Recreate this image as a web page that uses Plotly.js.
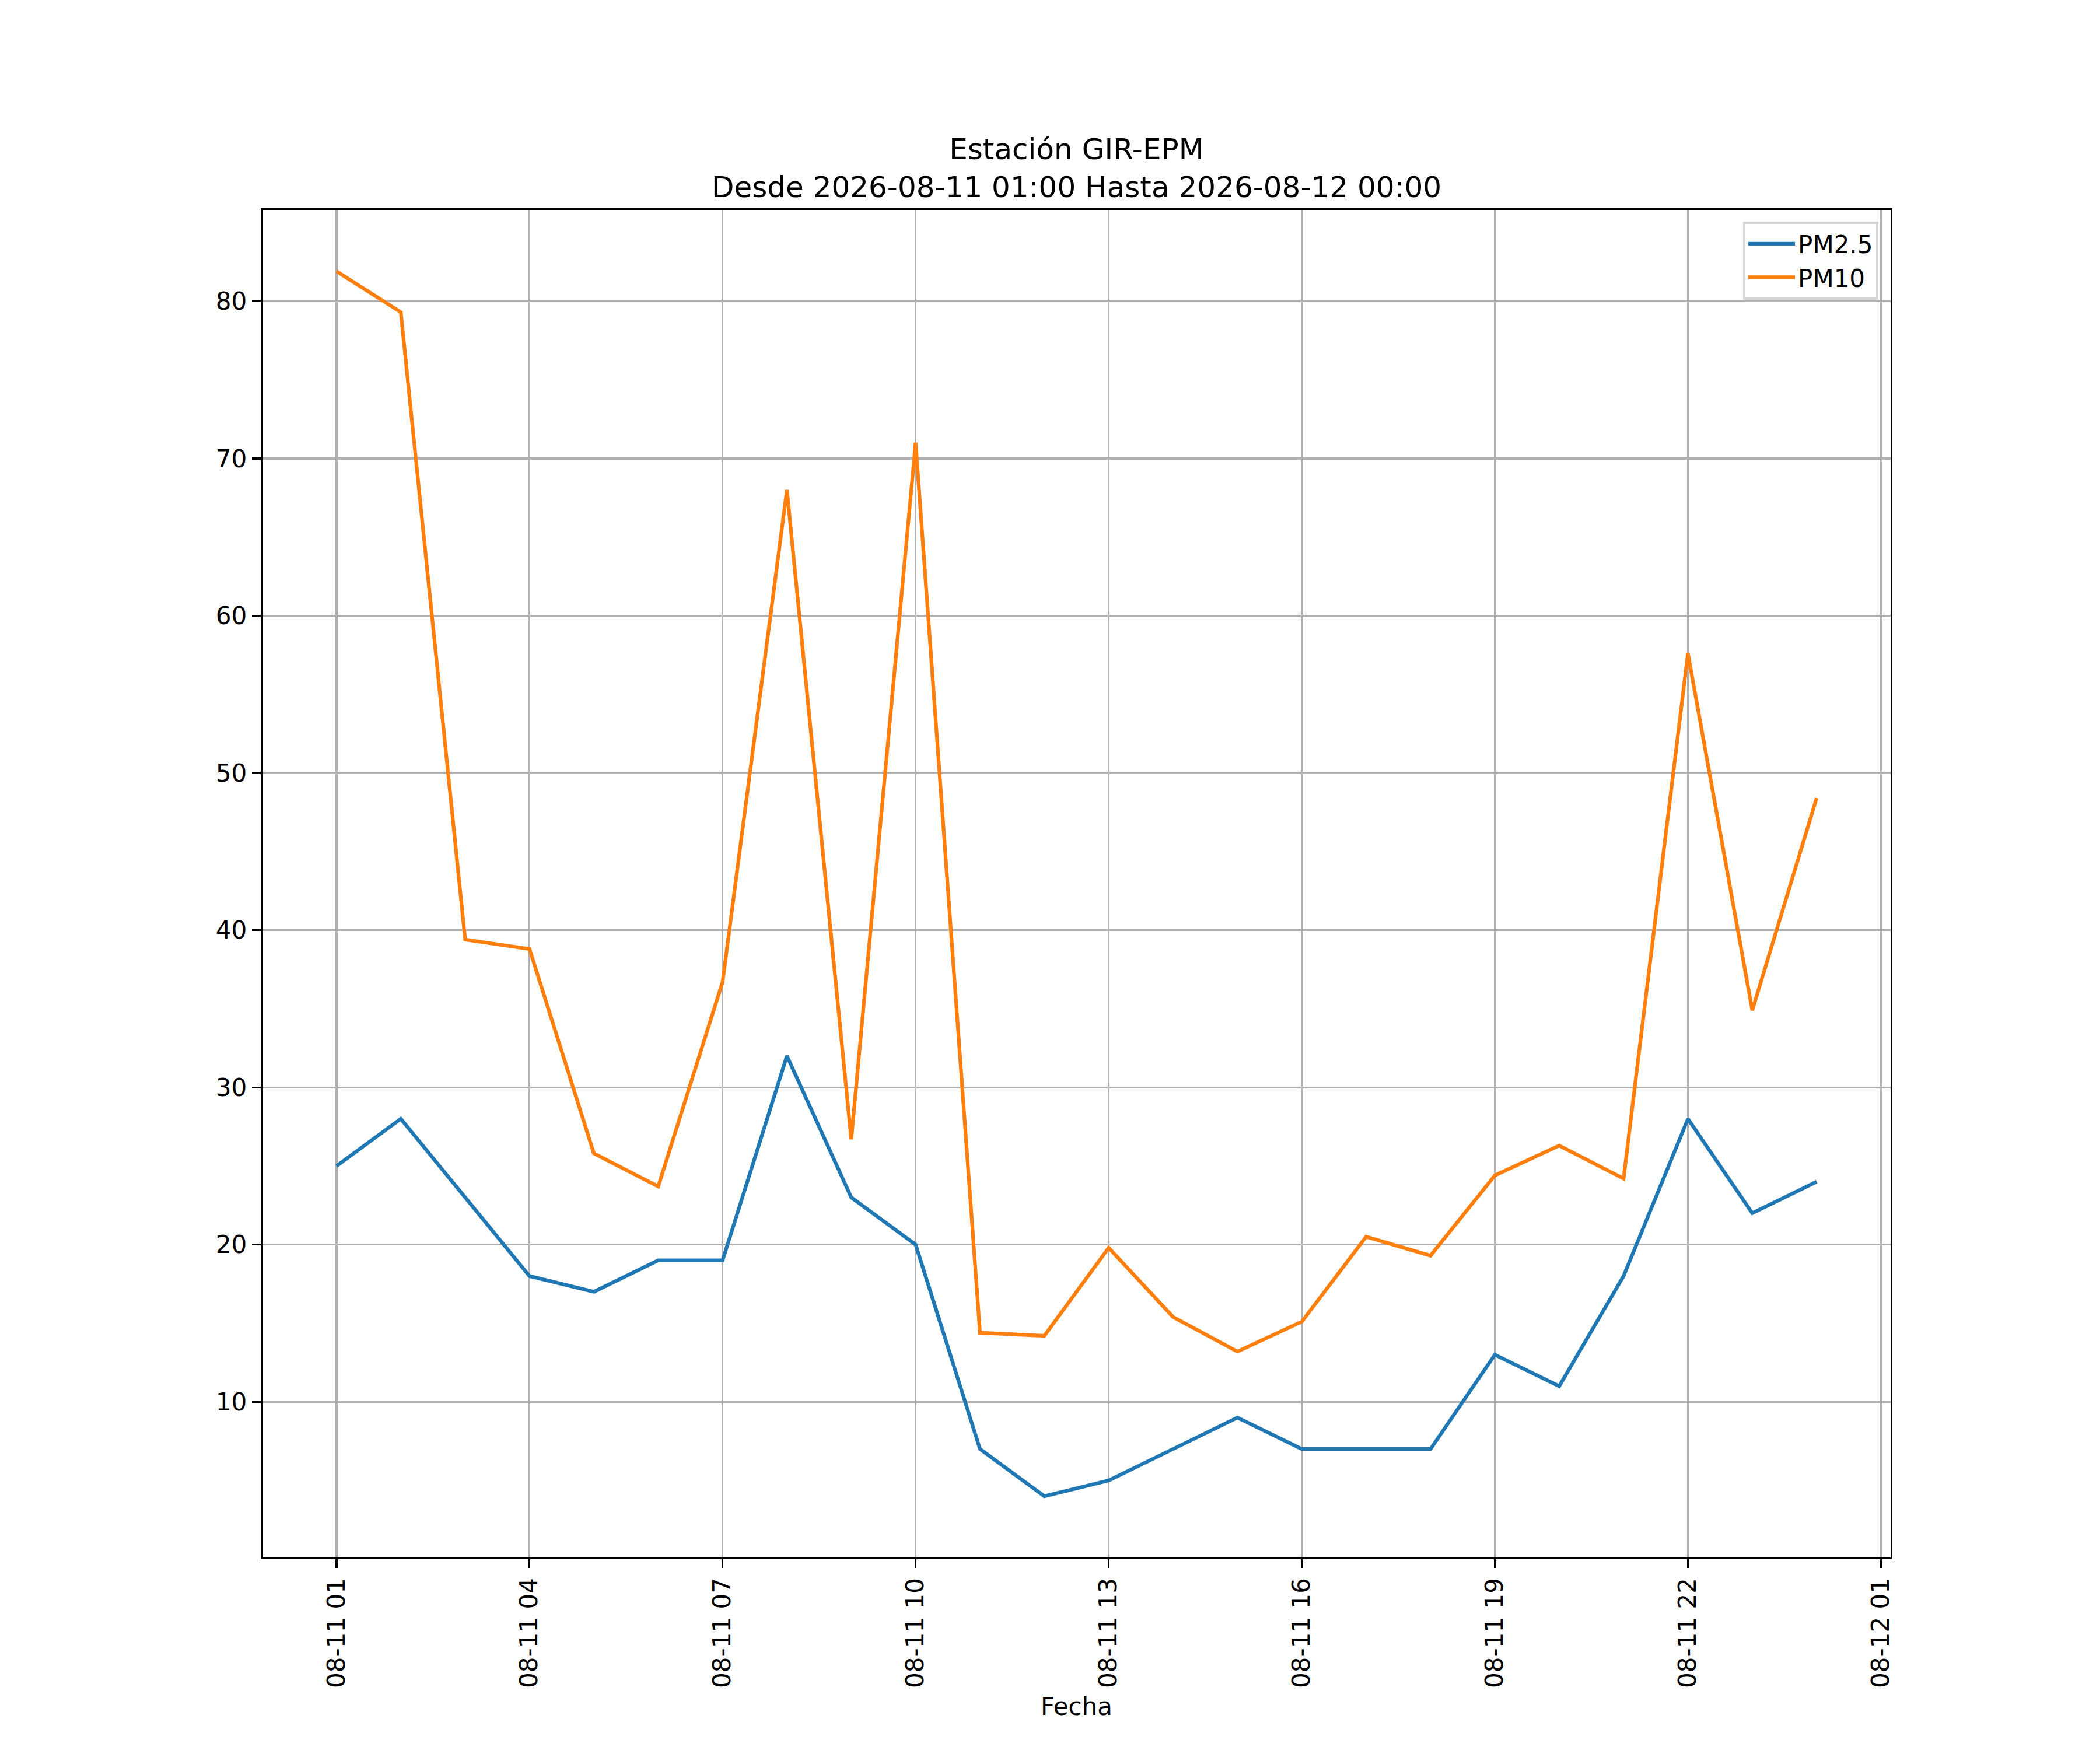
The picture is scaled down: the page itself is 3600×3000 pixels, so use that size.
<!DOCTYPE html>
<html>
<head>
<meta charset="utf-8">
<script src="https://cdn.plot.ly/plotly-3.0.1.min.js"></script>
<style>
  body { margin: 0; background: white; }
  #plot { width: 3600px; height: 3000px; }
</style>
</head>
<body>
<div id="plot"></div>
<script>
const fechas = [
    "2026-08-11 01:00", "2026-08-11 02:00", "2026-08-11 03:00", "2026-08-11 04:00",
    "2026-08-11 05:00", "2026-08-11 06:00", "2026-08-11 07:00", "2026-08-11 08:00",
    "2026-08-11 09:00", "2026-08-11 10:00", "2026-08-11 11:00", "2026-08-11 12:00",
    "2026-08-11 13:00", "2026-08-11 14:00", "2026-08-11 15:00", "2026-08-11 16:00",
    "2026-08-11 17:00", "2026-08-11 18:00", "2026-08-11 19:00", "2026-08-11 20:00",
    "2026-08-11 21:00", "2026-08-11 22:00", "2026-08-11 23:00", "2026-08-12 00:00"
];

const pm25 = [25, 28, 23, 18, 17, 19, 19, 32, 23, 20, 7, 4,
              5, 7, 9, 7, 7, 7, 13, 11, 18, 28, 22, 24];

const pm10 = [81.9, 79.3, 39.4, 38.8, 25.8, 23.7, 36.7, 68.0, 26.7, 71.0, 14.4, 14.2,
              19.8, 15.4, 13.2, 15.1, 20.5, 19.3, 24.4, 26.3, 24.2, 57.6, 34.9, 48.4];

const xTicks = ["2026-08-11 01:00", "2026-08-11 04:00", "2026-08-11 07:00", "2026-08-11 10:00",
                "2026-08-11 13:00", "2026-08-11 16:00", "2026-08-11 19:00", "2026-08-11 22:00",
                "2026-08-12 01:00"];

const yTicks = [10, 20, 30, 40, 50, 60, 70, 80];

const font = "DejaVu Sans, sans-serif";

const traces = [
    {
        type: "scatter",
        mode: "lines",
        name: "PM2.5",
        x: fechas,
        y: pm25,
        line: { color: "#1f77b4", width: 6.25 }
    },
    {
        type: "scatter",
        mode: "lines",
        name: "PM10",
        x: fechas,
        y: pm10,
        line: { color: "#ff7f0e", width: 6.25 }
    }
];

const axisCommon = {
    showline: true,
    mirror: true,
    linecolor: "black",
    linewidth: 3.3,
    ticks: "outside",
    ticklen: 15,
    tickwidth: 3.3,
    tickcolor: "black",
    showgrid: true,
    gridcolor: "#b0b0b0",
    gridwidth: 3.3,
    zeroline: false,
    tickfont: { family: font, size: 42, color: "black" }
};

Plotly.newPlot("plot", traces, {
    width: 3600,
    height: 3000,
    paper_bgcolor: "white",
    plot_bgcolor: "white",
    font: { family: font, color: "black" },
    margin: { l: 450, r: 359, t: 360, b: 330 },
    title: {
        text: "Estación GIR-EPM<br>Desde 2026-08-11 01:00 Hasta 2026-08-12 00:00",
        font: { family: font, size: 50, color: "black" },
        x: 0.5,
        xref: "paper",
        y: 0.909,
        yref: "container",
        yanchor: "top"
    },
    xaxis: Object.assign({}, axisCommon, {
        type: "date",
        range: ["2026-08-10 23:51", "2026-08-12 01:09"],
        tickvals: xTicks,
        tickformat: "%m-%d %H",
        tickangle: -90,
        title: { text: "Fecha", font: { family: font, size: 42, color: "black" }, standoff: 18 }
    }),
    yaxis: Object.assign({}, axisCommon, {
        range: [0.105, 85.8],
        tickvals: yTicks
    }),
    showlegend: true,
    legend: {
        x: 0.9925,
        y: 0.9913,
        xanchor: "right",
        yanchor: "top",
        bgcolor: "rgba(255,255,255,0.8)",
        bordercolor: "#d6d6d6",
        borderwidth: 4,
        font: { family: font, size: 42, color: "black" },
        itemwidth: 80,
        tracegroupgap: 0
    }
}, { staticPlot: true });
</script>
</body>
</html>
